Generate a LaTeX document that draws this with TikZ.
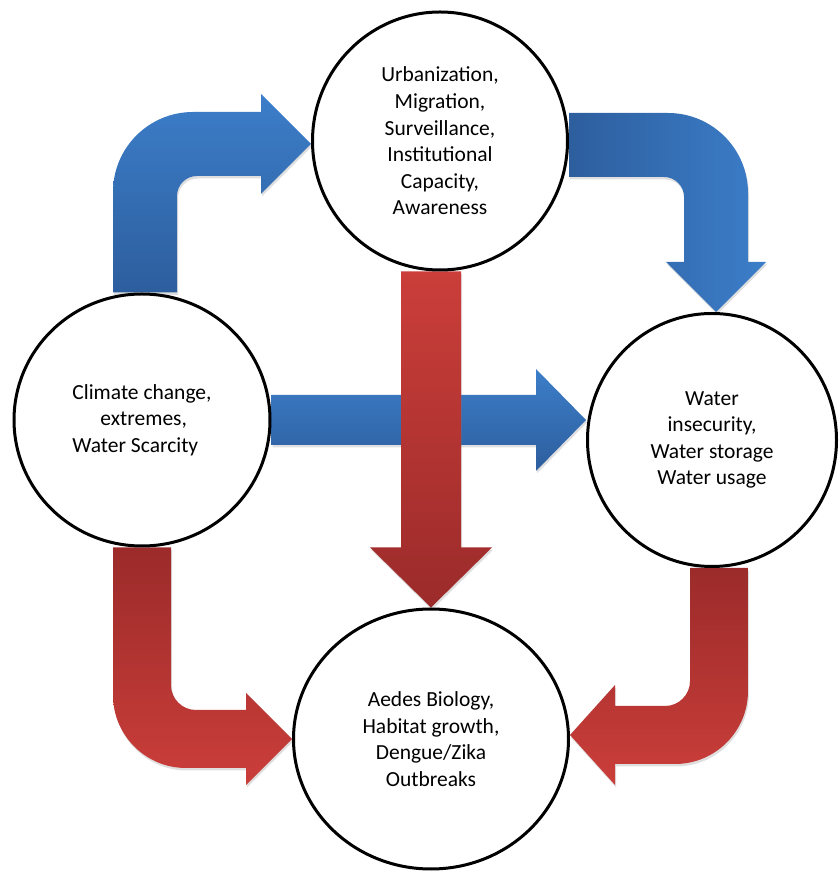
\documentclass[tikz,border=0pt]{standalone}
\usepackage{fontspec}
\setmainfont{Carlito}
\usetikzlibrary{calc,shapes.geometric,shadows,backgrounds}
\definecolor{bluelight}{RGB}{60,126,201}
\definecolor{bluedark}{RGB}{45,94,158}
\definecolor{redlight}{RGB}{203,62,58}
\definecolor{reddark}{RGB}{155,43,42}
\tikzstyle{factor}=[ellipse,draw,line width=3pt,fill=white,inner sep=0pt,align=center,font=\fontsize{21.5}{26.6}\selectfont]
\tikzstyle{blockarrow}=[drop shadow={shadow xshift=1pt,shadow yshift=-2.5pt,opacity=0.25}]
\tikzstyle{bluedown}=[blockarrow,top color=bluelight,bottom color=bluedark]
\tikzstyle{blueright}=[blockarrow,left color=bluedark,right color=bluelight]
\tikzstyle{redup}=[blockarrow,top color=reddark,bottom color=redlight]
\tikzstyle{reddown}=[blockarrow,top color=redlight,bottom color=reddark]

\begin{document}
\begin{tikzpicture}[x=1pt,y=1pt]
        \useasboundingbox (0,0) rectangle (839,879);
        \node [factor,minimum width=255pt,minimum height=258pt] (urb) at (440,738) {Urbanization,\\Migration,\\Surveillance,\\Institutional\\Capacity,\\Awareness};
        \node [factor,align=left,minimum width=256pt,minimum height=252pt] (clim) at (142,459) {Climate change,\\\hspace{28pt}extremes,\\Water Scarcity};
        \node [factor,minimum width=249pt,minimum height=253pt] (water) at (712,439) {Water\\insecurity,\\Water storage\\Water usage};
        \node [factor,minimum width=275pt,minimum height=260pt] (aedes) at (431,140) {Aedes Biology,\\Habitat growth,\\Dengue/Zika\\Outbreaks};

        \coordinate (s1) at ($(clim.north)+(3,0)$);
        \coordinate (t1) at ($(urb.west)+(0,-3)$);
        \coordinate (s2) at ($(urb.east)+(0,-4)$);
        \coordinate (t2) at ($(water.north)+(4,0)$);
        \coordinate (s3) at (clim.south);
        \coordinate (t3) at (aedes.west);
        \coordinate (s4) at ($(water.south)+(7,0)$);
        \coordinate (t4) at ($(aedes.east)+(0,4)$);
        \coordinate (s5) at (clim.east);
        \coordinate (t5) at (water.west |- clim.east);
        \coordinate (t6) at (aedes.north);
        \coordinate (s6) at (t6 |- urb.south);

        \begin{scope}[on background layer]
        % straight arrows
        \path [bluedown] ($(s5)+(0,25)$) -- ($(t5)+(-50,25)$) -- ($(t5)+(-50,51)$) -- (t5) -- ($(t5)+(-50,-51)$) -- ($(t5)+(-50,-25)$) -- ($(s5)+(0,-25)$) -- cycle;
        \path [reddown] ($(s6)+(-30,0)$) -- ($(t6)+(-30,60)$) -- ($(t6)+(-61,60)$) -- (t6) -- ($(t6)+(61,60)$) -- ($(t6)+(30,60)$) -- ($(s6)+(30,0)$) -- cycle;
        % bent arrows
        \path [bluedown] ($(s1)+(-32,0)$) -- ($(s1 |- t1)+(-32,-48)$) arc [start angle=180,end angle=90,radius=80pt] -- ($(t1)+(-50,32)$) -- ($(t1)+(-50,50)$) -- (t1) -- ($(t1)+(-50,-50)$) -- ($(t1)+(-50,-32)$) -- ($(s1 |- t1)+(52,-32)$) arc [start angle=90,end angle=180,radius=20pt] -- ($(s1)+(32,0)$) -- cycle;
        \path [blueright] ($(s2)+(0,32)$) -- ($(t2 |- s2)+(-48,32)$) arc [start angle=90,end angle=0,radius=80pt] -- ($(t2)+(32,50)$) -- ($(t2)+(50,50)$) -- (t2) -- ($(t2)+(-50,50)$) -- ($(t2)+(-32,50)$) -- ($(t2 |- s2)+(-32,-52)$) arc [start angle=0,end angle=90,radius=20pt] -- ($(s2)+(0,-32)$) -- cycle;
        \path [redup] ($(s3)+(-29,0)$) -- ($(s3 |- t3)+(-29,44)$) arc [start angle=180,end angle=270,radius=73pt] -- ($(t3)+(-46,-29)$) -- ($(t3)+(-46,-46)$) -- (t3) -- ($(t3)+(-46,46)$) -- ($(t3)+(-46,29)$) -- ($(s3 |- t3)+(54,29)$) arc [start angle=270,end angle=180,radius=25pt] -- ($(s3)+(29,0)$) -- cycle;
        \path [redup] ($(s4)+(29,0)$) -- ($(s4 |- t4)+(29,44)$) arc [start angle=0,end angle=-90,radius=73pt] -- ($(t4)+(45,-29)$) -- ($(t4)+(45,-50)$) -- (t4) -- ($(t4)+(45,50)$) -- ($(t4)+(45,29)$) -- ($(s4 |- t4)+(-54,29)$) arc [start angle=-90,end angle=0,radius=25pt] -- ($(s4)+(-29,0)$) -- cycle;
        \end{scope}
      \end{tikzpicture}
\end{document}
